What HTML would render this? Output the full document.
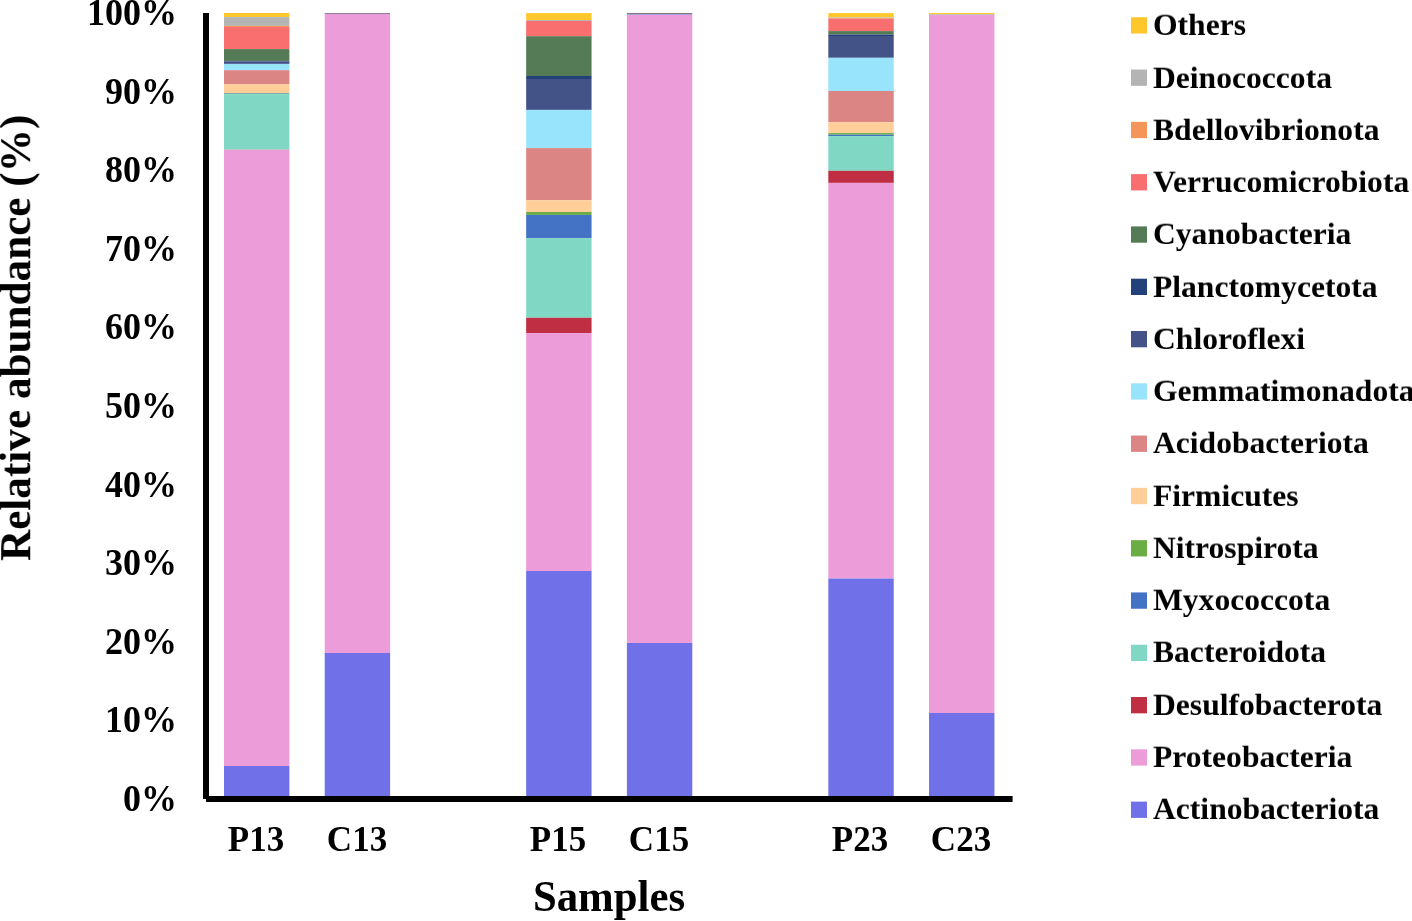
<!DOCTYPE html><html><head><meta charset="utf-8"><title>Relative abundance</title><style>
html,body{margin:0;padding:0;background:#fff;}
body{width:1412px;height:921px;position:relative;overflow:hidden;font-family:"Liberation Serif",serif;font-weight:bold;color:#000;}
.t{position:absolute;white-space:nowrap;line-height:1;will-change:transform;}
svg{position:absolute;left:0;top:0;}
</style></head><body>
<svg width="1412" height="921" viewBox="0 0 1412 921"><rect x="224.00" y="13" width="65.4" height="4.10" fill="#FFC72C"/><rect x="224.00" y="17.1" width="65.4" height="8.80" fill="#B4B4B4"/><rect x="224.00" y="25.9" width="65.4" height="1.10" fill="#F4965A"/><rect x="224.00" y="27" width="65.4" height="22.10" fill="#F96E6E"/><rect x="224.00" y="49.1" width="65.4" height="11.80" fill="#547B55"/><rect x="224.00" y="60.9" width="65.4" height="0.70" fill="#22407A"/><rect x="224.00" y="61.6" width="65.4" height="2.30" fill="#435387"/><rect x="224.00" y="63.9" width="65.4" height="6.30" fill="#99E4FD"/><rect x="224.00" y="70.2" width="65.4" height="13.90" fill="#DB8585"/><rect x="224.00" y="84.1" width="65.4" height="9.05" fill="#FFCE99"/><rect x="224.00" y="93.15" width="65.4" height="0.45" fill="#6AAD45"/><rect x="224.00" y="93.6" width="65.4" height="0.50" fill="#4472C4"/><rect x="224.00" y="94.1" width="65.4" height="55.20" fill="#80D8C4"/><rect x="224.00" y="149.3" width="65.4" height="0.50" fill="#8AAFA2"/><rect x="224.00" y="149.8" width="65.4" height="616.20" fill="#EC9CD8"/><rect x="224.00" y="766" width="65.4" height="30.00" fill="#7070E8"/><rect x="324.72" y="13" width="65.4" height="1.00" fill="#8E7E95"/><rect x="324.72" y="14" width="65.4" height="639.00" fill="#EC9CD8"/><rect x="324.72" y="653" width="65.4" height="143.00" fill="#7070E8"/><rect x="526.16" y="13.1" width="65.4" height="6.90" fill="#FFC72C"/><rect x="526.16" y="20.0" width="65.4" height="0.90" fill="#B4B4B4"/><rect x="526.16" y="20.9" width="65.4" height="15.30" fill="#F96E6E"/><rect x="526.16" y="36.2" width="65.4" height="39.80" fill="#547B55"/><rect x="526.16" y="76.0" width="65.4" height="3.00" fill="#22407A"/><rect x="526.16" y="79.0" width="65.4" height="30.90" fill="#435387"/><rect x="526.16" y="109.9" width="65.4" height="38.20" fill="#99E4FD"/><rect x="526.16" y="148.1" width="65.4" height="52.10" fill="#DB8585"/><rect x="526.16" y="200.2" width="65.4" height="11.80" fill="#FFCE99"/><rect x="526.16" y="212.0" width="65.4" height="2.90" fill="#6AAD45"/><rect x="526.16" y="214.9" width="65.4" height="23.20" fill="#4472C4"/><rect x="526.16" y="238.1" width="65.4" height="79.70" fill="#80D8C4"/><rect x="526.16" y="317.8" width="65.4" height="15.30" fill="#BF2E43"/><rect x="526.16" y="333.1" width="65.4" height="237.90" fill="#EC9CD8"/><rect x="526.16" y="571" width="65.4" height="225.00" fill="#7070E8"/><rect x="626.88" y="13" width="65.4" height="1.00" fill="#857880"/><rect x="626.88" y="14" width="65.4" height="1.00" fill="#A9A3DB"/><rect x="626.88" y="15" width="65.4" height="628.00" fill="#EC9CD8"/><rect x="626.88" y="643" width="65.4" height="153.00" fill="#7070E8"/><rect x="828.32" y="13.1" width="65.4" height="4.40" fill="#FFC72C"/><rect x="828.32" y="17.5" width="65.4" height="0.50" fill="#B4B4B4"/><rect x="828.32" y="18.0" width="65.4" height="0.70" fill="#F4965A"/><rect x="828.32" y="18.7" width="65.4" height="12.40" fill="#F96E6E"/><rect x="828.32" y="31.1" width="65.4" height="3.50" fill="#547B55"/><rect x="828.32" y="34.6" width="65.4" height="1.40" fill="#22407A"/><rect x="828.32" y="36.0" width="65.4" height="21.80" fill="#435387"/><rect x="828.32" y="57.8" width="65.4" height="33.20" fill="#99E4FD"/><rect x="828.32" y="91.0" width="65.4" height="31.20" fill="#DB8585"/><rect x="828.32" y="122.2" width="65.4" height="10.90" fill="#FFCE99"/><rect x="828.32" y="133.1" width="65.4" height="1.60" fill="#6AAD45"/><rect x="828.32" y="134.7" width="65.4" height="1.40" fill="#4472C4"/><rect x="828.32" y="136.1" width="65.4" height="34.70" fill="#80D8C4"/><rect x="828.32" y="170.8" width="65.4" height="12.10" fill="#BF2E43"/><rect x="828.32" y="182.9" width="65.4" height="395.60" fill="#EC9CD8"/><rect x="828.32" y="578.5" width="65.4" height="217.50" fill="#7070E8"/><rect x="929.04" y="13" width="65.4" height="1.30" fill="#FFC72C"/><rect x="929.04" y="14.3" width="65.4" height="0.70" fill="#B4B4B4"/><rect x="929.04" y="15" width="65.4" height="698.00" fill="#EC9CD8"/><rect x="929.04" y="713" width="65.4" height="83.00" fill="#7070E8"/><rect x="203" y="13" width="6" height="786" fill="#000"/><rect x="206" y="796" width="806.6" height="6" fill="#000"/><rect x="1131" y="17.25" width="16" height="16.3" fill="#FFC72C"/><rect x="1131" y="69.54" width="16" height="16.3" fill="#B4B4B4"/><rect x="1131" y="121.83" width="16" height="16.3" fill="#F4965A"/><rect x="1131" y="174.12" width="16" height="16.3" fill="#F96E6E"/><rect x="1131" y="226.41" width="16" height="16.3" fill="#547B55"/><rect x="1131" y="278.70" width="16" height="16.3" fill="#22407A"/><rect x="1131" y="330.99" width="16" height="16.3" fill="#435387"/><rect x="1131" y="383.28" width="16" height="16.3" fill="#99E4FD"/><rect x="1131" y="435.57" width="16" height="16.3" fill="#DB8585"/><rect x="1131" y="487.86" width="16" height="16.3" fill="#FFCE99"/><rect x="1131" y="540.15" width="16" height="16.3" fill="#6AAD45"/><rect x="1131" y="592.44" width="16" height="16.3" fill="#4472C4"/><rect x="1131" y="644.73" width="16" height="16.3" fill="#80D8C4"/><rect x="1131" y="697.02" width="16" height="16.3" fill="#BF2E43"/><rect x="1131" y="749.31" width="16" height="16.3" fill="#EC9CD8"/><rect x="1131" y="801.60" width="16" height="16.3" fill="#7070E8"/></svg>
<div class="t" style="left:27.00px;top:-4.70px;width:150px;font-size:36px;text-align:right;transform-origin:0 30.00px;transform:scaleY(1.074);">100%</div>
<div class="t" style="left:27.00px;top:74.30px;width:150px;font-size:36px;text-align:right;transform-origin:0 30.00px;transform:scaleY(1.074);">90%</div>
<div class="t" style="left:27.00px;top:152.30px;width:150px;font-size:36px;text-align:right;transform-origin:0 30.00px;transform:scaleY(1.074);">80%</div>
<div class="t" style="left:27.00px;top:231.30px;width:150px;font-size:36px;text-align:right;transform-origin:0 30.00px;transform:scaleY(1.074);">70%</div>
<div class="t" style="left:27.00px;top:309.30px;width:150px;font-size:36px;text-align:right;transform-origin:0 30.00px;transform:scaleY(1.074);">60%</div>
<div class="t" style="left:27.00px;top:388.30px;width:150px;font-size:36px;text-align:right;transform-origin:0 30.00px;transform:scaleY(1.074);">50%</div>
<div class="t" style="left:27.00px;top:467.30px;width:150px;font-size:36px;text-align:right;transform-origin:0 30.00px;transform:scaleY(1.074);">40%</div>
<div class="t" style="left:27.00px;top:545.30px;width:150px;font-size:36px;text-align:right;transform-origin:0 30.00px;transform:scaleY(1.074);">30%</div>
<div class="t" style="left:27.00px;top:624.30px;width:150px;font-size:36px;text-align:right;transform-origin:0 30.00px;transform:scaleY(1.074);">20%</div>
<div class="t" style="left:27.00px;top:702.30px;width:150px;font-size:36px;text-align:right;transform-origin:0 30.00px;transform:scaleY(1.074);">10%</div>
<div class="t" style="left:27.00px;top:781.30px;width:150px;font-size:36px;text-align:right;transform-origin:0 30.00px;transform:scaleY(1.074);">0%</div>
<div class="t" style="left:195.90px;top:822.20px;width:120px;font-size:35px;text-align:center;transform-origin:0 29.00px;transform:scaleY(1.04);">P13</div>
<div class="t" style="left:296.62px;top:822.20px;width:120px;font-size:35px;text-align:center;transform-origin:0 29.00px;transform:scaleY(1.04);">C13</div>
<div class="t" style="left:498.06px;top:822.20px;width:120px;font-size:35px;text-align:center;transform-origin:0 29.00px;transform:scaleY(1.04);">P15</div>
<div class="t" style="left:598.78px;top:822.20px;width:120px;font-size:35px;text-align:center;transform-origin:0 29.00px;transform:scaleY(1.04);">C15</div>
<div class="t" style="left:800.22px;top:822.20px;width:120px;font-size:35px;text-align:center;transform-origin:0 29.00px;transform:scaleY(1.04);">P23</div>
<div class="t" style="left:900.94px;top:822.20px;width:120px;font-size:35px;text-align:center;transform-origin:0 29.00px;transform:scaleY(1.04);">C23</div>
<div class="t" style="left:458.60px;top:875.90px;width:300px;font-size:42.8px;text-align:center;transform-origin:0 35.90px;transform:scaleY(1.05);">Samples</div>
<div class="t" style="left:30.00px;top:561.10px;font-size:43.2px;transform-origin:0 0;transform:rotate(-90deg) scaleY(1.018) translate(0,-36.10px)">Relative abundance (%)</div>
<div class="t" style="left:1152.60px;top:9.40px;width:300px;font-size:31.6px;text-align:left;transform-origin:0 26.30px;transform:scaleY(0.97);">Others</div>
<div class="t" style="left:1152.60px;top:61.65px;width:300px;font-size:31.6px;text-align:left;transform-origin:0 26.30px;transform:scaleY(0.97);">Deinococcota</div>
<div class="t" style="left:1152.60px;top:113.90px;width:300px;font-size:31.6px;text-align:left;transform-origin:0 26.30px;transform:scaleY(0.97);">Bdellovibrionota</div>
<div class="t" style="left:1152.60px;top:166.15px;width:300px;font-size:31.6px;text-align:left;transform-origin:0 26.30px;transform:scaleY(0.97);">Verrucomicrobiota</div>
<div class="t" style="left:1152.60px;top:218.40px;width:300px;font-size:31.6px;text-align:left;transform-origin:0 26.30px;transform:scaleY(0.97);">Cyanobacteria</div>
<div class="t" style="left:1152.60px;top:270.65px;width:300px;font-size:31.6px;text-align:left;transform-origin:0 26.30px;transform:scaleY(0.97);">Planctomycetota</div>
<div class="t" style="left:1152.60px;top:322.90px;width:300px;font-size:31.6px;text-align:left;transform-origin:0 26.30px;transform:scaleY(0.97);">Chloroflexi</div>
<div class="t" style="left:1152.60px;top:375.15px;width:300px;font-size:31.6px;text-align:left;transform-origin:0 26.30px;transform:scaleY(0.97);">Gemmatimonadota</div>
<div class="t" style="left:1152.60px;top:427.40px;width:300px;font-size:31.6px;text-align:left;transform-origin:0 26.30px;transform:scaleY(0.97);">Acidobacteriota</div>
<div class="t" style="left:1152.60px;top:479.65px;width:300px;font-size:31.6px;text-align:left;transform-origin:0 26.30px;transform:scaleY(0.97);">Firmicutes</div>
<div class="t" style="left:1152.60px;top:531.90px;width:300px;font-size:31.6px;text-align:left;transform-origin:0 26.30px;transform:scaleY(0.97);">Nitrospirota</div>
<div class="t" style="left:1152.60px;top:584.15px;width:300px;font-size:31.6px;text-align:left;transform-origin:0 26.30px;transform:scaleY(0.97);">Myxococcota</div>
<div class="t" style="left:1152.60px;top:636.40px;width:300px;font-size:31.6px;text-align:left;transform-origin:0 26.30px;transform:scaleY(0.97);">Bacteroidota</div>
<div class="t" style="left:1152.60px;top:688.65px;width:300px;font-size:31.6px;text-align:left;transform-origin:0 26.30px;transform:scaleY(0.97);">Desulfobacterota</div>
<div class="t" style="left:1152.60px;top:740.90px;width:300px;font-size:31.6px;text-align:left;transform-origin:0 26.30px;transform:scaleY(0.97);">Proteobacteria</div>
<div class="t" style="left:1152.60px;top:793.15px;width:300px;font-size:31.6px;text-align:left;transform-origin:0 26.30px;transform:scaleY(0.97);">Actinobacteriota</div>
</body></html>
